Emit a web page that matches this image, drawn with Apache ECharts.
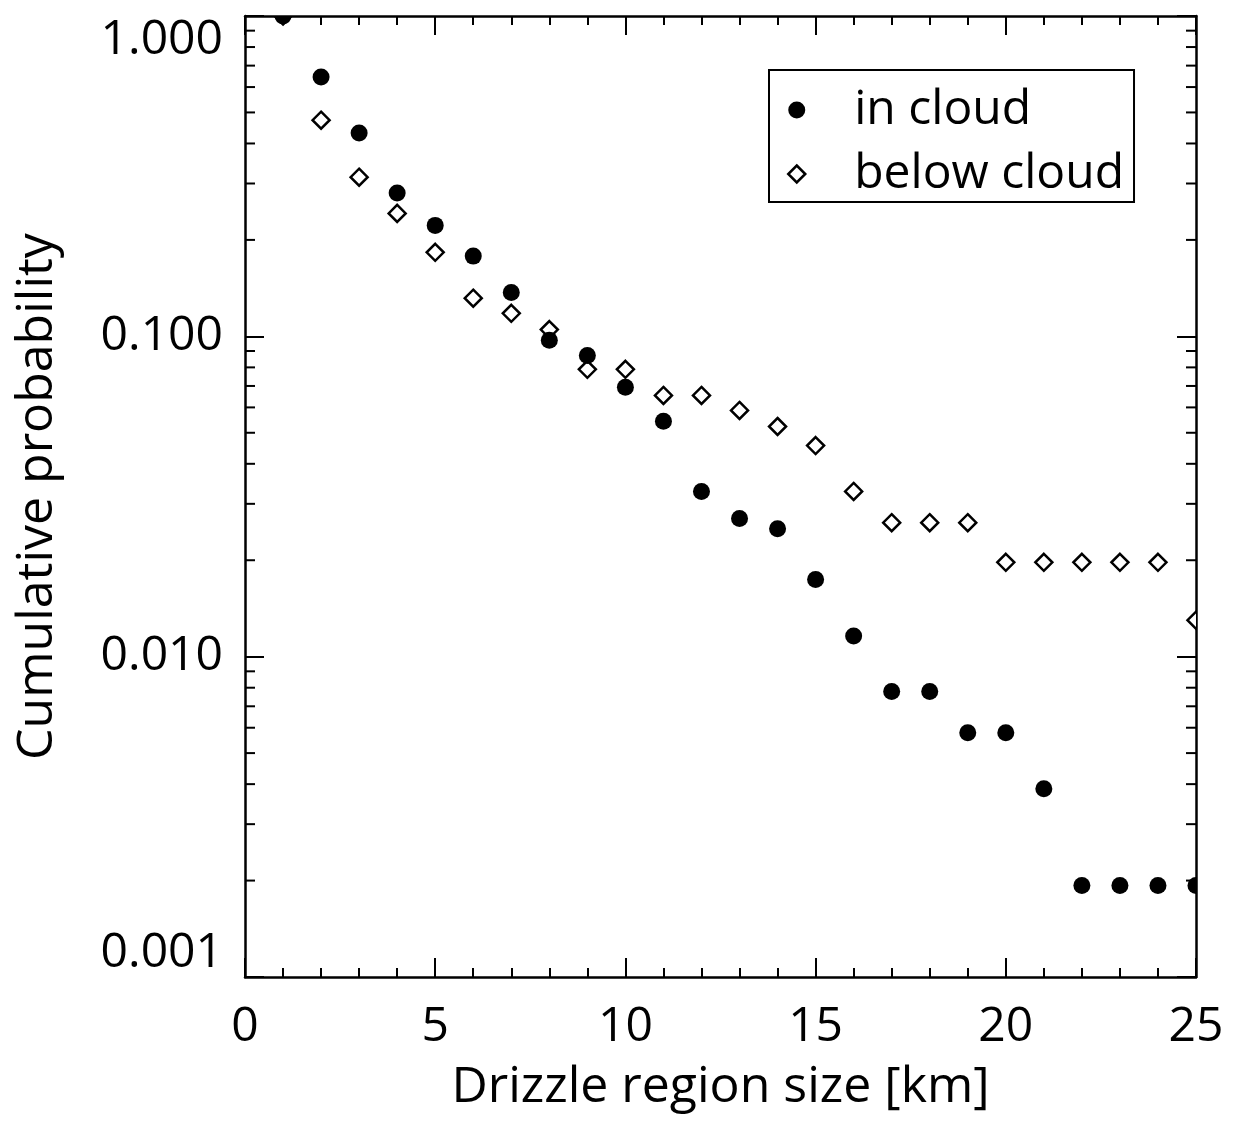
<!DOCTYPE html>
<html>
<head>
<meta charset="utf-8">
<title>Cumulative probability of drizzle region size</title>
<script src="https://cdn.jsdelivr.net/npm/echarts@6/dist/echarts.min.js"></script>
<style>
  html, body { margin: 0; padding: 0; background: #fff; }
  #chart { width: 1236px; height: 1128px; }
</style>
</head>
<body>
<div id="chart"></div>
<script>
// Drizzle region size in km (x) and cumulative probability (y, log scale)
const sizes = [1, 2, 3, 4, 5, 6, 7, 8, 9, 10, 11, 12, 13, 14, 15, 16, 17, 18, 19, 20, 21, 22, 23, 24, 25];

const inCloud = [1.0, 0.645, 0.431, 0.280, 0.222, 0.178, 0.137, 0.0972, 0.0872, 0.0693,
  0.0543, 0.0328, 0.0270, 0.0251, 0.0174, 0.0116, 0.00778, 0.00778, 0.00579, 0.00579,
  0.00387, 0.00193, 0.00193, 0.00193, 0.00193];

const belowCloud = [1.0, 0.473, 0.314, 0.242, 0.183, 0.1315, 0.118, 0.105, 0.0789, 0.0789,
  0.0654, 0.0654, 0.0587, 0.0523, 0.0456, 0.0328, 0.0262, 0.0262, 0.0262, 0.0197,
  0.0197, 0.0197, 0.0197, 0.0197, 0.0130];

// Log-axis minor tick positions (2..9 within each decade)
const minorTickValues = [];
[0.001, 0.01, 0.1].forEach(function (d) {
  for (let k = 2; k <= 9; k++) minorTickValues.push(+(d * k).toPrecision(3));
});

const FONT = '"Open Sans", "Noto Sans", sans-serif';
const FS_LABEL = 48;
const FS_TITLE = 50;

function pairs(ys) { return sizes.map(function (x, i) { return [x, ys[i]]; }); }

const axisLineStyle = { color: '#000', width: 2.5 };

const option = {
  backgroundColor: '#fff',
  animation: false,
  grid: { left: 245, right: 40, top: 16, bottom: 151, containLabel: false },
  legend: {
    orient: 'vertical',
    left: 769,
    top: 70,
    padding: [16, 10, 4, 18],
    borderColor: '#000',
    borderWidth: 2,
    itemWidth: 17,
    itemHeight: 17,
    itemGap: 16,
    selectedMode: false,
    textStyle: { fontFamily: FONT, fontSize: FS_LABEL, color: '#000', padding: [0, 0, 0, 44] },
    data: [
      { name: 'in cloud', icon: 'circle', itemStyle: { color: '#000', borderWidth: 0 } },
      { name: 'below cloud', icon: 'diamond',
        itemStyle: { color: '#fff', borderColor: '#000', borderWidth: 2.5 } }
    ]
  },
  xAxis: [
    {
      type: 'value', position: 'bottom', min: 0, max: 25, interval: 5,
      name: 'Drizzle region size [km]', nameLocation: 'middle', nameGap: 86,
      nameTextStyle: { fontFamily: FONT, fontSize: FS_TITLE, color: '#000' },
      axisLine: { show: true, onZero: false, lineStyle: axisLineStyle },
      axisTick: { show: true, inside: true, length: 19, lineStyle: { color: '#000', width: 2 } },
      minorTick: { show: true, splitNumber: 5, length: 9, lineStyle: { color: '#000', width: 2 } },
      axisLabel: { margin: 26, fontFamily: FONT, fontSize: FS_LABEL, color: '#000' },
      splitLine: { show: false }
    },
    {
      type: 'value', position: 'top', min: 0, max: 25, interval: 5,
      axisLine: { show: true, onZero: false, lineStyle: axisLineStyle },
      axisTick: { show: true, inside: true, length: 19, lineStyle: { color: '#000', width: 2 } },
      minorTick: { show: true, splitNumber: 5, length: 9, lineStyle: { color: '#000', width: 2 } },
      axisLabel: { show: false },
      splitLine: { show: false }
    }
  ],
  yAxis: [
    {
      type: 'log', logBase: 10, position: 'left', min: 0.001, max: 1,
      name: 'Cumulative probability', nameLocation: 'middle', nameGap: 182,
      nameTextStyle: { fontFamily: FONT, fontSize: FS_TITLE, color: '#000' },
      axisLine: { show: true, onZero: false, lineStyle: axisLineStyle },
      axisTick: { show: true, inside: true, length: 19, lineStyle: { color: '#000', width: 2 } },
      axisLabel: {
        margin: 22, fontFamily: FONT, fontSize: FS_LABEL, color: '#000',
        verticalAlignMinLabel: 'bottom', verticalAlignMaxLabel: 'top',
        formatter: function (v) { return Number(v).toFixed(3); }
      },
      splitLine: { show: false }
    },
    {
      type: 'log', logBase: 10, position: 'right', min: 0.001, max: 1,
      axisLine: { show: true, onZero: false, lineStyle: axisLineStyle },
      axisTick: { show: true, inside: true, length: 19, lineStyle: { color: '#000', width: 2 } },
      axisLabel: { show: false },
      splitLine: { show: false }
    }
  ],
  series: [
    {
      // minor ticks of the log axes, on both the left and right frame edges
      name: 'minor ticks', type: 'custom', silent: true, clip: false, z: 3,
      data: minorTickValues.map(function (v) { return [0, v]; }),
      renderItem: function (params, api) {
        const cs = params.coordSys;
        const y = api.coord([0, api.value(1)])[1];
        const st = { stroke: '#000', lineWidth: 2 };
        return {
          type: 'group',
          children: [
            { type: 'line', shape: { x1: cs.x, y1: y, x2: cs.x + 10, y2: y }, style: st },
            { type: 'line', shape: { x1: cs.x + cs.width, y1: y, x2: cs.x + cs.width - 10, y2: y }, style: st }
          ]
        };
      }
    },
    {
      name: 'below cloud', type: 'custom', clip: true, z: 4,
      itemStyle: { color: '#fff', borderColor: '#000', borderWidth: 2.5 },
      data: pairs(belowCloud),
      renderItem: function (params, api) {
        const p = api.coord([api.value(0), api.value(1)]);
        const r = 8.5;
        return {
          type: 'polygon',
          shape: { points: [[p[0], p[1] - r], [p[0] + r, p[1]], [p[0], p[1] + r], [p[0] - r, p[1]]] },
          style: { fill: '#fff', stroke: '#000', lineWidth: 2.5 }
        };
      }
    },
    {
      name: 'in cloud', type: 'custom', clip: true, z: 5,
      itemStyle: { color: '#000' },
      data: pairs(inCloud),
      renderItem: function (params, api) {
        const p = api.coord([api.value(0), api.value(1)]);
        return {
          type: 'circle',
          shape: { cx: p[0], cy: p[1], r: 8.5 },
          style: { fill: '#000' }
        };
      }
    }
  ]
};

const chart = echarts.init(document.getElementById('chart'), null, { renderer: 'canvas' });
chart.setOption(option);
</script>
</body>
</html>
